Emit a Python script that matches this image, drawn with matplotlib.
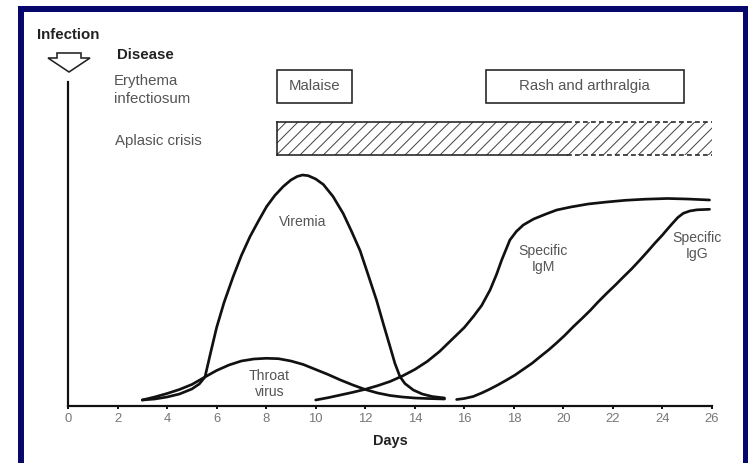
import matplotlib
matplotlib.use("Agg")
import matplotlib.pyplot as plt
from matplotlib.patches import Rectangle, Polygon

# values (days, relative level above the baseline)
viremia_days = [3.0, 3.5, 4.0, 4.5, 5.0, 5.3, 5.53, 5.75, 6.0, 6.3, 6.67, 7.0, 7.35, 7.7, 8.02, 8.35,
                8.69, 9.0, 9.25, 9.47, 9.7, 10.0, 10.31, 10.7, 11.11, 11.45, 11.79, 12.1, 12.46,
                12.75, 13.0, 13.2, 13.4, 13.6, 13.94, 14.3, 14.7, 15.2]
viremia_level = [5.5, 6.5, 8.5, 11.5, 16.5, 21.5, 28.5, 52, 78, 103, 129, 150, 169, 185, 199, 210,
                 219, 225.5, 229, 230.5, 229.8, 226.5, 221, 209, 192, 174, 155, 132, 105,
                 80, 59, 42, 29, 22, 15.5, 11.5, 9, 7.5]

throat_days = [3.0, 3.5, 4.0, 4.5, 5.0, 5.53, 6.0, 6.5, 7.0, 7.5, 8.0, 8.5, 9.0, 9.5, 10.0, 10.5,
               11.0, 11.5, 12.0, 12.5, 13.0, 13.5, 14.0, 14.5, 15.2]
throat_level = [5.5, 8.5, 12, 16, 21, 28.5, 35, 40.5, 44.5, 46.5, 47.2, 46.8, 44.5, 41, 36, 31,
                25.5, 20.5, 16, 12.5, 10, 8.5, 7.5, 7, 6.5]

igm_days = [10.0, 10.5, 11.0, 11.5, 12.0, 12.5, 13.0, 13.5, 14.0, 14.5, 15.0, 15.5, 16.0, 16.36,
            16.7, 17.04, 17.3, 17.51, 17.7, 17.84, 18.1, 18.38, 18.8, 19.3, 19.73, 20.3, 21.0,
            21.75, 22.5, 23.3, 24.2, 25.0, 25.9]
igm_level = [5.5, 7.8, 10.5, 13.2, 16.2, 19.8, 24, 29.5, 36, 44, 54, 66, 78, 88.8,
             100, 115.5, 131, 145.5, 157, 165.5, 174, 180.5, 186.5, 191.5, 195.5, 198.5, 201.5,
             203.5, 205.2, 206.3, 207, 206.5, 205.5]

igg_days = [15.69, 16.0, 16.36, 16.7, 17.0, 17.35, 17.71, 18.05, 18.4, 18.75, 19.06, 19.4, 19.7,
            20.05, 20.4, 20.75, 21.08, 21.4, 21.75, 22.1, 22.4, 22.75, 23.09, 23.4, 23.7, 24.0,
            24.17, 24.4, 24.62, 24.84, 25.1, 25.4, 25.9]
igg_level = [6, 7, 9, 12.5, 16, 20.5, 25.5, 30.5, 36.5, 42.5, 48.8, 55.5, 62,
             70, 78.8, 87, 95, 103.5, 112.2, 120.5, 128, 136.5, 145.5, 154, 162.5, 170.5,
             175.5, 182, 188, 192.2, 194.5, 195.7, 196.2]

day_ticks = list(range(0, 27, 2))

# symptom periods (days)
malaise_period = (8.44, 11.47)
rash_period = (16.86, 24.87)
aplastic_period = (8.43, 26.0)
aplastic_solid_until = 20.13

DPI = 70


def pt(px):
    return px * 72 / DPI


plt.rcParams["font.family"] = ["Liberation Sans", "DejaVu Sans"]
plt.rcParams["hatch.linewidth"] = pt(1.0)
plt.rcParams["hatch.color"] = "#444444"

W, H = 748, 463
fig = plt.figure(figsize=(W / DPI, H / DPI), dpi=DPI)
fig.patch.set_facecolor("white")

base = 405.5
ax = fig.add_axes([68 / W, (H - base) / H, 644 / W, base / H])
ax.set_xlim(0, 26)
ax.set_ylim(0, base)
ax.patch.set_alpha(0)
for s in ["left", "top", "right"]:
    ax.spines[s].set_visible(False)
ax.spines["bottom"].set_linewidth(pt(2.2))
ax.spines["bottom"].set_color("#111111")
ax.set_xticks(day_ticks)
ax.set_yticks([])
ax.tick_params(axis="x", direction="out", length=pt(3), width=pt(2), color="#111111",
               pad=pt(5), labelsize=pt(13), labelcolor="#777777")
ax.text(13, -35, "Days", ha="center", va="center", fontsize=pt(14.5),
        fontweight="bold", color="#222222")

# curves
line_kw = dict(color="#111111", lw=pt(2.7), solid_capstyle="round", solid_joinstyle="round")
ax.plot(viremia_days, viremia_level, **line_kw)
ax.plot(throat_days, throat_level, **line_kw)
ax.plot(igm_days, igm_level, **line_kw)
ax.plot(igg_days, igg_level, **line_kw)

lab = dict(ha="center", va="center", fontsize=pt(14), color="#555555", linespacing=1.2)
ax.text(9.49, 184, "Viremia", **lab)
ax.text(8.13, 21.5, "Throat\nvirus", **lab)
ax.text(19.19, 146.5, "Specific\nIgM", **lab)
ax.text(25.38, 159.5, "Specific\nIgG", **lab)

# infection line and arrow
ax.plot([0, 0], [0, 324], color="#111111", lw=pt(2.2), clip_on=False)
ax.text(0.01, 370.5, "Infection", ha="center", va="center", fontsize=pt(15),
        fontweight="bold", color="#222222")
arrow_px = [(57, 53), (81, 53), (81, 58), (90, 58), (69, 72), (48, 58), (57, 58)]
fig.add_artist(Polygon([(x / W, 1 - y / H) for x, y in arrow_px], closed=True,
                       transform=fig.transFigure, facecolor="white",
                       edgecolor="#222222", lw=pt(1.6)))

# disease rows
ax.text(1.96, 350.5, "Disease", ha="left", va="center", fontsize=pt(15),
        fontweight="bold", color="#222222")
ax.text(1.85, 315.5, "Erythema\ninfectiosum", ha="left", va="center", fontsize=pt(15),
        color="#555555", linespacing=1.3)
ax.text(1.9, 264, "Aplasic crisis", ha="left", va="center", fontsize=pt(15), color="#555555")

box_lo, box_hi = 302.5, 336
for (d0, d1), name in [(malaise_period, "Malaise"), (rash_period, "Rash and arthralgia")]:
    ax.add_patch(Rectangle((d0, box_lo), d1 - d0, box_hi - box_lo, facecolor="white",
                           edgecolor="#222222", lw=pt(1.6), clip_on=False))
    ax.text((d0 + d1) / 2, (box_lo + box_hi) / 2, name, ha="center", va="center",
            fontsize=pt(15), color="#555555")

hat_lo, hat_hi = 250.5, 283.5
a0, a1 = aplastic_period
ax.add_patch(Rectangle((a0, hat_lo), a1 - a0, hat_hi - hat_lo, facecolor="white",
                       edgecolor="#444444", hatch="//", lw=0, clip_on=False))
edge = dict(color="#222222", lw=pt(1.6), clip_on=False)
ax.plot([a0, a0], [hat_lo, hat_hi], **edge)
ax.plot([a0, aplastic_solid_until], [hat_hi, hat_hi], **edge)
ax.plot([a0, aplastic_solid_until], [hat_lo, hat_lo], **edge)
ax.plot([aplastic_solid_until, a1], [hat_hi, hat_hi], ls=(0, (3, 2)), **edge)
ax.plot([aplastic_solid_until, a1], [hat_lo, hat_lo], ls=(0, (3, 2)), **edge)

# navy frame
navy = "#06066b"
fig.add_artist(Rectangle((18 / W, 0), 5 / W, (H - 6) / H, transform=fig.transFigure, color=navy))
fig.add_artist(Rectangle((18 / W, (H - 11) / H), (W - 18) / W, 5 / H,
                         transform=fig.transFigure, color=navy))
fig.add_artist(Rectangle((743 / W, 0), 5 / W, (H - 6) / H, transform=fig.transFigure, color=navy))

fig.savefig("out.png", dpi=DPI, facecolor="white")
